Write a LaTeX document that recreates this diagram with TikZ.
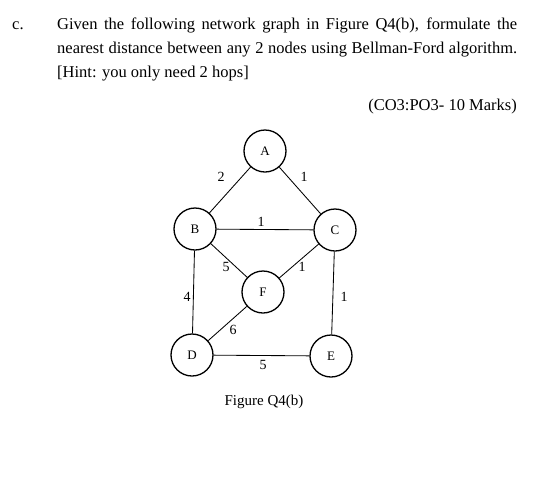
\documentclass[tikz,border=0pt]{standalone}
\usepackage{fontspec}
\setmainfont{Liberation Serif}
\begin{document}
\begin{tikzpicture}[x=1pt,y=-1pt,
  vertex/.style={circle,draw,line width=1.3pt,minimum size=42pt,inner sep=0pt,font=\fontsize{13}{15}\selectfont},
  edge/.style={line width=0.85pt},
  wlabel/.style={inner sep=0pt,font=\fontsize{14}{16}\selectfont},
  body/.style={inner sep=0pt,anchor=base west,font=\fontsize{16.5}{24}\selectfont}]
\useasboundingbox (0,0) rectangle (539,483);
% question text
\node[body] (item) at (12,29) {c.};
\node[body] (l1) at (57,29) {\makebox[460pt][s]{Given the following network graph in Figure Q4(b), formulate the}};
\node[body] (l2) at (57,53) {\makebox[460pt][s]{nearest distance between any 2 nodes using Bellman-Ford algorithm.}};
\node[body] (l3) at (57,77) {[Hint: you only need 2 hops]};
\node[body,anchor=base east] (marks) at (517,110) {(CO3:PO3- 10 Marks)};
% graph
\node[vertex] (A) at (265,151) {A};
\node[vertex] (B) at (195,229) {B};
\node[vertex] (C) at (335,230) {C};
\node[vertex] (F) at (263,292) {F};
\node[vertex] (D) at (192,355) {D};
\node[vertex] (E) at (331,356) {E};
\draw[edge] (A) -- (B);
\draw[edge] (A) -- (C);
\draw[edge] (B) -- (C);
\draw[edge] (B) -- (F);
\draw[edge] (C) -- (F);
\draw[edge] (B) -- (D);
\draw[edge] (C) -- (E);
\draw[edge] (D) -- (F);
\draw[edge] (D) -- (E);
\node[wlabel] (wAB) at (221,177) {2};
\node[wlabel] (wAC) at (304,177) {1};
\node[wlabel] (wBC) at (261,222) {1};
\node[wlabel] (wBF) at (226,267) {5};
\node[wlabel] (wCF) at (302,267) {1};
\node[wlabel] (wBD) at (187,297) {4};
\node[wlabel] (wCE) at (344,297) {1};
\node[wlabel] (wDF) at (233,330) {6};
\node[wlabel] (wDE) at (263,365) {5};
\node[inner sep=0pt,anchor=base,font=\fontsize{15}{17}\selectfont] (cap) at (264,405) {Figure Q4(b)};
\end{tikzpicture}
\end{document}
